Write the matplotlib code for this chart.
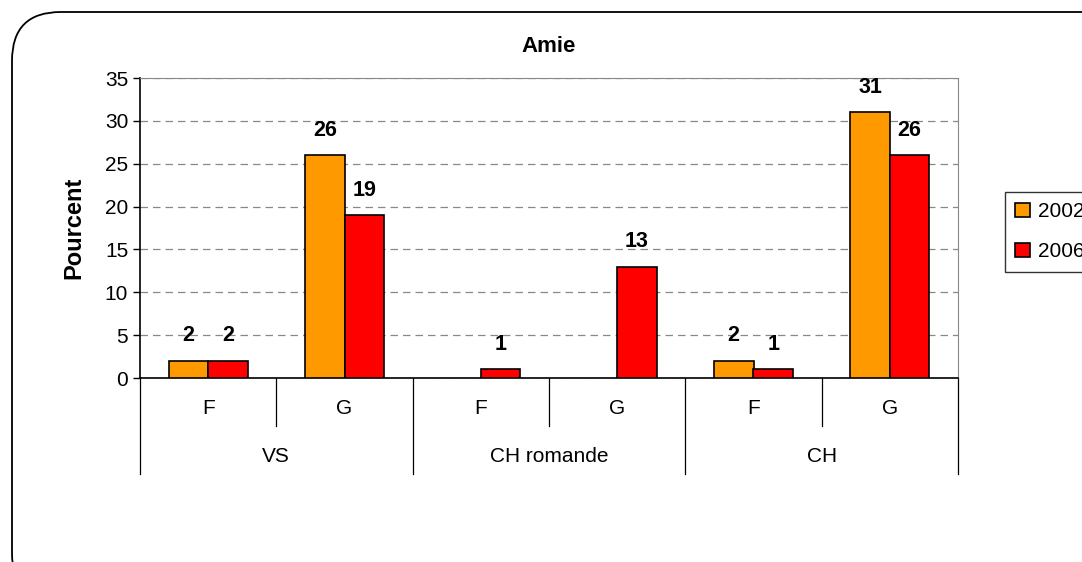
import numpy as np
import matplotlib.pyplot as plt
from matplotlib.patches import FancyBboxPatch

plt.rcParams['font.family'] = ['Liberation Sans', 'DejaVu Sans']

# data
groups = ['VS', 'CH romande', 'CH']
sub_labels = ['F', 'G', 'F', 'G', 'F', 'G']
years = ['2002', '2006']
vals_2002 = [2, 26, np.nan, np.nan, 2, 31]
vals_2006 = [2, 19, 1, 13, 1, 26]
colors = ['#FF9900', '#FF0000']

W, H = 1082, 562
fig = plt.figure(figsize=(W / 100, H / 100), dpi=100)

# rounded frame around the chart (runs off right and bottom edge)
frame = FancyBboxPatch((12 / W, -40 / H), 1120 / W, (H - 12 + 40) / H,
                       boxstyle='round,pad=0,rounding_size=0.045',
                       transform=fig.transFigure, fill=False,
                       edgecolor='black', linewidth=1.3, mutation_aspect=W / H)
fig.patches.append(frame)

ax = fig.add_axes([140 / W, (H - 378) / H, 818 / W, 300 / H])

x = np.arange(len(sub_labels)) + 0.5
bw = 0.29
series = [vals_2002, vals_2006]
for i, (vals, c, lab) in enumerate(zip(series, colors, years)):
    pos = x + (i - 0.5) * bw
    ax.bar(pos, vals, bw, color=c, edgecolor='black', linewidth=1.2,
           label=lab, zorder=3)
    for p, v in zip(pos, vals):
        if np.isnan(v):
            continue
        ax.annotate('%d' % v, xy=(p, v), xytext=(0, 14), textcoords='offset points',
                    ha='center', va='baseline', fontsize=15.5, fontweight='bold')

ax.set_xlim(0, len(sub_labels))
ax.set_ylim(0, 35)
ax.set_yticks(range(0, 36, 5))
ax.tick_params(axis='y', labelsize=15, length=5, direction='out', width=1)
ax.set_xticks([])
ax.yaxis.grid(True, linestyle=(0, (6, 4)), color='#888888', linewidth=0.9)
ax.set_axisbelow(True)

ax.spines['top'].set_color('#888888')
ax.spines['right'].set_color('#888888')
ax.spines['left'].set_linewidth(1.2)
ax.spines['bottom'].set_linewidth(1.2)

ax.set_title('Amie', fontsize=16, fontweight='bold', pad=19)
ax.set_ylabel('Pourcent', fontsize=17, fontweight='bold', labelpad=14)

# two level category axis
tr = ax.get_xaxis_transform()
for b in range(len(sub_labels) + 1):
    y_end = -0.32 if b % 2 == 0 else -0.16
    ax.plot([b, b], [0, y_end], color='black', linewidth=0.9, transform=tr, clip_on=False)
for xi, s in zip(x, sub_labels):
    ax.text(xi, -0.1, s, transform=tr, ha='center', va='center', fontsize=15)
for gi, g in enumerate(groups):
    ax.text(2 * gi + 1, -0.263, g, transform=tr, ha='center', va='center', fontsize=15)

leg = ax.legend(loc='upper left', bbox_to_anchor=(1005 / W, (H - 192) / H),
                bbox_transform=fig.transFigure, fontsize=15, frameon=True,
                fancybox=False, edgecolor='black', handlelength=0.7,
                handleheight=0.7, handletextpad=0.4, labelspacing=1.0,
                borderpad=0.5, borderaxespad=0)
leg.get_frame().set_linewidth(1.0)

fig.savefig('out.png', dpi=100)
